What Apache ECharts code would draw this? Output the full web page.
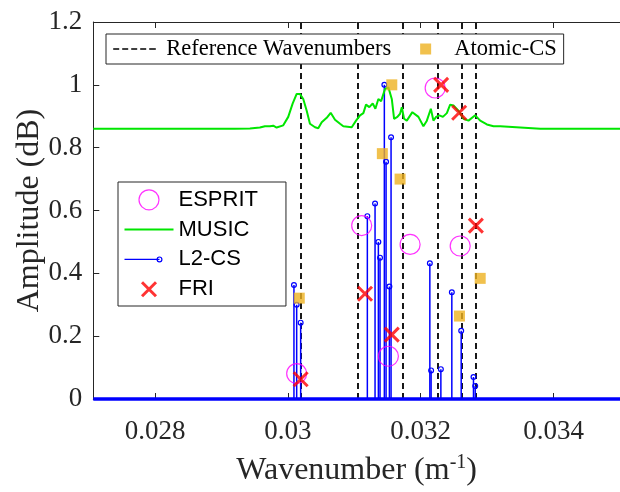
<!DOCTYPE html>
<html><head><meta charset="utf-8">
<script src="https://cdn.jsdelivr.net/npm/echarts@6/dist/echarts.min.js"></script>
<style>html,body{margin:0;padding:0;background:#fff}#c{width:620px;height:492px}</style>
</head><body><div id="c"></div>
<script>
// ---- data ----
const refWavenumbers = [0.030192, 0.031045, 0.03173, 0.032251, 0.032619, 0.032835];
const atomicX = [0.030171, 0.031422, 0.031564, 0.031689, 0.032583, 0.032895];
const atomicY = [0.321, 0.781, 1.0, 0.70, 0.264, 0.384];
const friX = [0.030192, 0.031161, 0.031564, 0.032307, 0.032578, 0.03283];
const friY = [0.063, 0.335, 0.205, 1.0, 0.911, 0.552];
const espritX = [0.030132, 0.031111, 0.031513, 0.03184, 0.032217, 0.032594];
const espritY = [0.081, 0.552, 0.136, 0.492, 0.99, 0.487];
const l2X = [0.030091, 0.030132, 0.030192, 0.031196, 0.031312, 0.031362, 0.031387, 0.031452, 0.031478, 0.031528, 0.031553, 0.032137, 0.032156, 0.032303, 0.032468, 0.032609, 0.032794, 0.03282];
const l2Y = [0.363, 0.30, 0.243, 0.582, 0.622, 0.50, 0.45, 1.0, 0.755, 0.358, 0.833, 0.432, 0.091, 0.095, 0.34, 0.217, 0.07, 0.041];
const musicX = [0.02707, 0.0278, 0.0285, 0.0292, 0.029428, 0.029578, 0.029654, 0.029729, 0.029779, 0.02983, 0.02993, 0.030005, 0.030071, 0.030132, 0.030181, 0.030231, 0.030282, 0.030332, 0.030408, 0.030457, 0.030509, 0.030584, 0.030644, 0.030709, 0.030785, 0.030834, 0.030961, 0.031026, 0.031086, 0.031136, 0.031176, 0.031226, 0.031277, 0.031317, 0.031362, 0.031403, 0.031463, 0.031513, 0.031564, 0.031599, 0.031648, 0.031689, 0.031715, 0.031749, 0.03179, 0.031874, 0.031965, 0.03204, 0.032092, 0.032152, 0.032191, 0.032232, 0.032281, 0.032333, 0.032393, 0.032443, 0.032493, 0.032568, 0.032643, 0.032719, 0.03282, 0.032895, 0.032996, 0.033096, 0.033197, 0.0338, 0.0344, 0.035];
const musicY = [0.86, 0.86, 0.86, 0.86, 0.861, 0.864, 0.868, 0.868, 0.870, 0.864, 0.871, 0.898, 0.940, 0.971, 0.971, 0.955, 0.918, 0.876, 0.865, 0.862, 0.881, 0.895, 0.911, 0.889, 0.876, 0.868, 0.865, 0.886, 0.903, 0.91, 0.937, 0.929, 0.941, 0.924, 0.955, 0.948, 0.987, 0.992, 0.955, 0.892, 0.898, 0.908, 0.929, 0.892, 0.886, 0.913, 0.898, 0.868, 0.886, 0.924, 0.886, 0.898, 0.903, 0.898, 0.91, 0.937, 0.934, 0.918, 0.892, 0.886, 0.903, 0.886, 0.874, 0.868, 0.868, 0.86, 0.86, 0.86];
const xTicks = [0.028, 0.03, 0.032, 0.034];
const xRange = [0.02707, 0.035];
const yRange = [0, 1.2];
const yStep = 0.2;

const pairs = (xs, ys) => xs.map((x, i) => [x, ys[i]]);
const SERIF = 'Liberation Serif';
const SANS = 'Liberation Sans';
const AX = '#262626';
const GREEN = '#00e600';

const chart = echarts.init(document.getElementById('c'), null, {renderer: 'canvas'});
chart.setOption({
  animation: false,
  backgroundColor: '#fff',
  grid: {left: 93.3, right: 0, top: 22, bottom: 88},
  xAxis: [{
    type: 'value', min: xRange[0], max: xRange[1], position: 'bottom',
    axisLine: {show: true, lineStyle: {color: AX, width: 1}},
    axisTick: {show: true, inside: true, length: 6, customValues: xTicks, lineStyle: {color: AX}},
    axisLabel: {show: true, customValues: xTicks, margin: 19, fontFamily: SERIF, fontSize: 27, color: AX},
    splitLine: {show: false},
    name: '{t|Wavenumber (m}{s|-1}{t|)}', nameLocation: 'middle', nameGap: 54, nameMoveOverlap: false,
    nameTextStyle: {fontFamily: SERIF, fontSize: 32, color: AX,
      rich: {t: {fontFamily: SERIF, fontSize: 32, color: AX, lineHeight: 36},
             s: {fontFamily: SERIF, fontSize: 20, color: AX, lineHeight: 20, verticalAlign: 'top'}}}
  }, {
    type: 'value', min: xRange[0], max: xRange[1], position: 'top',
    axisLine: {show: true, lineStyle: {color: AX, width: 1}},
    axisTick: {show: true, inside: true, length: 6, customValues: xTicks, lineStyle: {color: AX}},
    axisLabel: {show: false}, splitLine: {show: false}
  }],
  yAxis: [{
    type: 'value', min: yRange[0], max: yRange[1], interval: yStep,
    axisLine: {show: true, lineStyle: {color: AX, width: 1}},
    axisTick: {show: true, inside: true, length: 6, lineStyle: {color: AX}},
    axisLabel: {margin: 11, fontFamily: SERIF, fontSize: 27, color: AX},
    splitLine: {show: false},
    name: 'Amplitude (dB)', nameLocation: 'middle', nameGap: 48, nameMoveOverlap: false,
    nameTextStyle: {fontFamily: SERIF, fontSize: 32, color: AX}
  }],
  legend: [{
    data: [
      {name: 'Reference Wavenumbers', icon: 'path://M0 0M48 12M0 6L6 6M9 6L15 6M18 6L24 6M27 6L33 6M36 6L42.6 6',
       itemStyle: {color: 'none', borderColor: '#000', borderWidth: 1.5}},
      {name: 'Atomic-CS', icon: 'path://M0 0M48 12M19 0.5L30 0.5L30 11.5L19 11.5Z',
       itemStyle: {color: '#EDB120', borderWidth: 0}}
    ],
    orient: 'horizontal', left: 106, top: 34,
    itemWidth: 48, itemHeight: 12, itemGap: 10,
    padding: [3.5, 7, 3.5, 4.7],
    backgroundColor: '#fff', borderColor: AX, borderWidth: 1,
    textStyle: {fontFamily: SERIF, fontSize: 22.5, color: '#000'},
    selectedMode: false, z: 6
  }, {
    data: [
      {name: 'ESPRIT', icon: 'circle', itemStyle: {color: 'none', borderColor: '#ff00ff', borderWidth: 1.2}},
      {name: 'MUSIC', icon: 'path://M0 0M49 20M0 10L49 10',
       itemStyle: {color: 'none', borderColor: GREEN, borderWidth: 2}},
      {name: 'L2-CS', icon: 'path://M0 0M49 20M0 10L35 10M32.6 10A2.4 2.4 0 1 0 37.4 10A2.4 2.4 0 1 0 32.6 10',
       itemStyle: {color: 'none', borderColor: '#0000ff', borderWidth: 1.2}},
      {name: 'FRI', icon: 'path://M0 0M49 20M17.5 3L31.5 17M31.5 3L17.5 17',
       itemStyle: {color: 'none', borderColor: '#ff0000', borderWidth: 3}}
    ],
    orient: 'vertical', left: 118, top: 182,
    itemWidth: 49, itemHeight: 20, itemGap: 4.8,
    padding: [5.3, 28, 4.3, 4],
    backgroundColor: '#fff', borderColor: AX, borderWidth: 1,
    textStyle: {fontFamily: SANS, fontSize: 22, color: '#000'},
    selectedMode: false, z: 6
  }],
  series: [
    {
      name: 'Reference Wavenumbers', type: 'line', data: [], symbol: 'none',
      lineStyle: {color: '#000', width: 1.5, type: [6, 4]},
      markLine: {
        silent: true, symbol: ['none', 'none'], z: 1, animation: false, precision: 8,
        label: {show: false},
        lineStyle: {color: '#000', width: 1.8, type: [6, 4]},
        data: refWavenumbers.map(v => ({xAxis: v}))
      }
    },
    {
      name: 'ESPRIT', type: 'scatter', data: pairs(espritX, espritY),
      symbol: 'circle', symbolSize: 20, z: 2,
      itemStyle: {color: 'rgba(0,0,0,0)', borderColor: '#ff00ff', borderWidth: 1.2}
    },
    {
      name: 'MUSIC', type: 'line', data: pairs(musicX, musicY), symbol: 'none', z: 2,
      lineStyle: {color: GREEN, width: 2}, itemStyle: {color: GREEN}
    },
    {
      name: 'L2-CS', type: 'custom', data: pairs(l2X, l2Y), z: 2,
      itemStyle: {color: '#0000ff'},
      renderItem: function (params, api) {
        const base = api.coord([api.value(0), 0]);
        const top = api.coord([api.value(0), api.value(1)]);
        return {type: 'group', children: [
          {type: 'line', shape: {x1: base[0], y1: base[1], x2: top[0], y2: top[1]}, style: {stroke: '#0000ff', lineWidth: 1.5}},
          {type: 'circle', shape: {cx: top[0], cy: top[1], r: 2.4}, style: {stroke: '#0000ff', fill: 'none', lineWidth: 1.2}}
        ]};
      },
      markLine: {
        silent: true, symbol: ['none', 'none'], z: 3, animation: false,
        label: {show: false},
        lineStyle: {color: '#0000ff', width: 3.5, type: 'solid'},
        data: [{yAxis: 0}]
      }
    },
    {
      name: 'FRI', type: 'scatter', data: pairs(friX, friY), z: 2,
      symbol: 'path://M0 0L10 10M10 0L0 10', symbolSize: 14,
      itemStyle: {color: '#ff0000', borderColor: '#ff0000', borderWidth: 3}
    },
    {
      name: 'Atomic-CS', type: 'scatter', data: pairs(atomicX, atomicY), z: 2,
      symbol: 'rect', symbolSize: 11,
      itemStyle: {color: '#EDB120'}
    }
  ]
});
</script>
</body></html>
